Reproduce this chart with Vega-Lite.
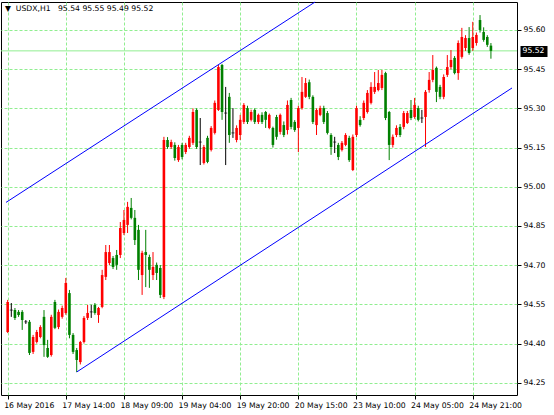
{
  "$schema": "https://vega.github.io/schema/vega-lite/v6.json",
  "width": 516,
  "height": 393,
  "autosize": "none",
  "padding": {"left": 1, "top": 2, "right": 37, "bottom": 20},
  "background": "white",
  "title": {
    "text": "▼\u00a0\u00a0USDX,H1\u00a0\u00a0\u00a095.54 95.55 95.49 95.52",
    "anchor": "start",
    "orient": "top",
    "frame": "group",
    "offset": -13,
    "dx": 4,
    "font": "DejaVu Sans",
    "fontSize": 7.7,
    "fontWeight": "normal",
    "color": "black"
  },
  "config": {
    "view": {"stroke": "black", "strokeWidth": 1}
  },
  "datasets": {
    "candles": [
      {"i":0,"o":94.444,"h":94.567,"l":94.44,"c":94.559},
      {"i":1,"o":94.528,"h":94.555,"l":94.502,"c":94.528},
      {"i":2,"o":94.528,"h":94.536,"l":94.49,"c":94.498},
      {"i":3,"o":94.521,"h":94.528,"l":94.502,"c":94.509},
      {"i":4,"o":94.521,"h":94.528,"l":94.452,"c":94.49},
      {"i":5,"o":94.483,"h":94.49,"l":94.475,"c":94.483},
      {"i":6,"o":94.483,"h":94.49,"l":94.356,"c":94.364},
      {"i":7,"o":94.368,"h":94.433,"l":94.36,"c":94.425},
      {"i":8,"o":94.406,"h":94.452,"l":94.4,"c":94.444},
      {"i":9,"o":94.425,"h":94.47,"l":94.42,"c":94.463},
      {"i":10,"o":94.502,"h":94.528,"l":94.349,"c":94.394},
      {"i":11,"o":94.383,"h":94.414,"l":94.345,"c":94.349},
      {"i":12,"o":94.356,"h":94.51,"l":94.35,"c":94.502},
      {"i":13,"o":94.559,"h":94.567,"l":94.455,"c":94.46},
      {"i":14,"o":94.463,"h":94.53,"l":94.455,"c":94.521},
      {"i":15,"o":94.502,"h":94.545,"l":94.495,"c":94.536},
      {"i":16,"o":94.517,"h":94.651,"l":94.51,"c":94.632},
      {"i":17,"o":94.593,"h":94.605,"l":94.42,"c":94.433},
      {"i":18,"o":94.433,"h":94.44,"l":94.36,"c":94.368},
      {"i":19,"o":94.375,"h":94.383,"l":94.291,"c":94.337},
      {"i":20,"o":94.329,"h":94.41,"l":94.32,"c":94.406},
      {"i":21,"o":94.406,"h":94.505,"l":94.4,"c":94.498},
      {"i":22,"o":94.498,"h":94.548,"l":94.49,"c":94.517},
      {"i":23,"o":94.521,"h":94.548,"l":94.498,"c":94.521},
      {"i":24,"o":94.548,"h":94.555,"l":94.51,"c":94.517},
      {"i":25,"o":94.509,"h":94.54,"l":94.479,"c":94.536},
      {"i":26,"o":94.54,"h":94.682,"l":94.535,"c":94.662},
      {"i":27,"o":94.655,"h":94.777,"l":94.643,"c":94.75},
      {"i":28,"o":94.708,"h":94.777,"l":94.7,"c":94.75},
      {"i":29,"o":94.727,"h":94.735,"l":94.685,"c":94.693},
      {"i":30,"o":94.739,"h":94.758,"l":94.682,"c":94.701},
      {"i":31,"o":94.739,"h":94.865,"l":94.727,"c":94.842},
      {"i":32,"o":94.823,"h":94.911,"l":94.815,"c":94.873},
      {"i":33,"o":94.854,"h":94.942,"l":94.823,"c":94.923},
      {"i":34,"o":94.919,"h":94.957,"l":94.875,"c":94.881},
      {"i":35,"o":94.881,"h":94.911,"l":94.777,"c":94.796},
      {"i":36,"o":94.835,"h":94.854,"l":94.643,"c":94.682},
      {"i":37,"o":94.662,"h":94.755,"l":94.586,"c":94.747},
      {"i":38,"o":94.75,"h":94.835,"l":94.616,"c":94.739},
      {"i":39,"o":94.731,"h":94.74,"l":94.613,"c":94.682},
      {"i":40,"o":94.662,"h":94.75,"l":94.643,"c":94.693},
      {"i":41,"o":94.701,"h":94.71,"l":94.643,"c":94.67},
      {"i":42,"o":94.689,"h":94.7,"l":94.574,"c":94.586},
      {"i":43,"o":94.578,"h":95.191,"l":94.57,"c":95.179},
      {"i":44,"o":95.179,"h":95.19,"l":95.145,"c":95.152},
      {"i":45,"o":95.152,"h":95.18,"l":95.145,"c":95.171},
      {"i":46,"o":95.16,"h":95.17,"l":95.1,"c":95.11},
      {"i":47,"o":95.102,"h":95.16,"l":95.095,"c":95.152},
      {"i":48,"o":95.16,"h":95.168,"l":95.105,"c":95.114},
      {"i":49,"o":95.133,"h":95.168,"l":95.125,"c":95.16},
      {"i":50,"o":95.152,"h":95.195,"l":95.145,"c":95.187},
      {"i":51,"o":95.168,"h":95.3,"l":95.16,"c":95.286},
      {"i":52,"o":95.294,"h":95.3,"l":95.145,"c":95.152},
      {"i":53,"o":95.171,"h":95.263,"l":95.083,"c":95.171},
      {"i":54,"o":95.091,"h":95.16,"l":95.085,"c":95.152},
      {"i":55,"o":95.187,"h":95.195,"l":95.09,"c":95.095},
      {"i":56,"o":95.141,"h":95.232,"l":95.135,"c":95.225},
      {"i":57,"o":95.206,"h":95.33,"l":95.2,"c":95.321},
      {"i":58,"o":95.294,"h":95.466,"l":95.29,"c":95.458},
      {"i":59,"o":95.466,"h":95.47,"l":95.256,"c":95.286},
      {"i":60,"o":95.282,"h":95.382,"l":95.083,"c":95.282},
      {"i":61,"o":95.344,"h":95.359,"l":95.168,"c":95.198},
      {"i":62,"o":95.206,"h":95.301,"l":95.187,"c":95.206},
      {"i":63,"o":95.179,"h":95.235,"l":95.17,"c":95.225},
      {"i":64,"o":95.198,"h":95.275,"l":95.179,"c":95.256},
      {"i":65,"o":95.248,"h":95.32,"l":95.24,"c":95.313},
      {"i":66,"o":95.301,"h":95.31,"l":95.24,"c":95.248},
      {"i":67,"o":95.256,"h":95.295,"l":95.25,"c":95.286},
      {"i":68,"o":95.294,"h":95.3,"l":95.24,"c":95.248},
      {"i":69,"o":95.248,"h":95.28,"l":95.24,"c":95.275},
      {"i":70,"o":95.275,"h":95.285,"l":95.24,"c":95.248},
      {"i":71,"o":95.286,"h":95.29,"l":95.225,"c":95.256},
      {"i":72,"o":95.225,"h":95.28,"l":95.22,"c":95.275},
      {"i":73,"o":95.225,"h":95.23,"l":95.15,"c":95.16},
      {"i":74,"o":95.267,"h":95.275,"l":95.18,"c":95.191},
      {"i":75,"o":95.21,"h":95.28,"l":95.2,"c":95.275},
      {"i":76,"o":95.236,"h":95.25,"l":95.19,"c":95.198},
      {"i":77,"o":95.217,"h":95.33,"l":95.2,"c":95.313},
      {"i":78,"o":95.332,"h":95.34,"l":95.22,"c":95.229},
      {"i":79,"o":95.248,"h":95.255,"l":95.21,"c":95.217},
      {"i":80,"o":95.225,"h":95.31,"l":95.133,"c":95.301},
      {"i":81,"o":95.301,"h":95.42,"l":95.295,"c":95.363},
      {"i":82,"o":95.344,"h":95.416,"l":95.34,"c":95.397},
      {"i":83,"o":95.4,"h":95.41,"l":95.335,"c":95.344},
      {"i":84,"o":95.344,"h":95.35,"l":95.24,"c":95.248},
      {"i":85,"o":95.236,"h":95.3,"l":95.198,"c":95.294},
      {"i":86,"o":95.275,"h":95.31,"l":95.27,"c":95.301},
      {"i":87,"o":95.301,"h":95.31,"l":95.24,"c":95.248},
      {"i":88,"o":95.282,"h":95.29,"l":95.2,"c":95.206},
      {"i":89,"o":95.198,"h":95.205,"l":95.122,"c":95.152},
      {"i":90,"o":95.171,"h":95.191,"l":95.129,"c":95.171},
      {"i":91,"o":95.16,"h":95.168,"l":95.102,"c":95.114},
      {"i":92,"o":95.141,"h":95.175,"l":95.135,"c":95.168},
      {"i":93,"o":95.16,"h":95.205,"l":95.155,"c":95.198},
      {"i":94,"o":95.187,"h":95.195,"l":95.095,"c":95.102},
      {"i":95,"o":95.064,"h":95.2,"l":95.06,"c":95.191},
      {"i":96,"o":95.198,"h":95.31,"l":95.19,"c":95.301},
      {"i":97,"o":95.256,"h":95.27,"l":95.23,"c":95.236},
      {"i":98,"o":95.263,"h":95.33,"l":95.255,"c":95.321},
      {"i":99,"o":95.286,"h":95.37,"l":95.28,"c":95.359},
      {"i":100,"o":95.321,"h":95.4,"l":95.315,"c":95.382},
      {"i":101,"o":95.363,"h":95.439,"l":95.355,"c":95.382},
      {"i":102,"o":95.37,"h":95.447,"l":95.365,"c":95.397},
      {"i":103,"o":95.378,"h":95.447,"l":95.37,"c":95.428},
      {"i":104,"o":95.435,"h":95.44,"l":95.255,"c":95.263},
      {"i":105,"o":95.286,"h":95.29,"l":95.102,"c":95.16},
      {"i":106,"o":95.16,"h":95.2,"l":95.15,"c":95.191},
      {"i":107,"o":95.198,"h":95.235,"l":95.19,"c":95.225},
      {"i":108,"o":95.229,"h":95.24,"l":95.19,"c":95.198},
      {"i":109,"o":95.229,"h":95.29,"l":95.22,"c":95.282},
      {"i":110,"o":95.244,"h":95.29,"l":95.24,"c":95.282},
      {"i":111,"o":95.294,"h":95.332,"l":95.255,"c":95.263},
      {"i":112,"o":95.267,"h":95.34,"l":95.26,"c":95.313},
      {"i":113,"o":95.301,"h":95.31,"l":95.25,"c":95.256},
      {"i":114,"o":95.263,"h":95.294,"l":95.244,"c":95.263},
      {"i":115,"o":95.267,"h":95.37,"l":95.152,"c":95.363},
      {"i":116,"o":95.37,"h":95.439,"l":95.36,"c":95.409},
      {"i":117,"o":95.409,"h":95.504,"l":95.4,"c":95.447},
      {"i":118,"o":95.455,"h":95.46,"l":95.324,"c":95.363},
      {"i":119,"o":95.382,"h":95.39,"l":95.335,"c":95.344},
      {"i":120,"o":95.344,"h":95.43,"l":95.335,"c":95.42},
      {"i":121,"o":95.428,"h":95.504,"l":95.42,"c":95.458},
      {"i":122,"o":95.458,"h":95.523,"l":95.45,"c":95.485},
      {"i":123,"o":95.493,"h":95.5,"l":95.43,"c":95.435},
      {"i":124,"o":95.435,"h":95.56,"l":95.409,"c":95.55},
      {"i":125,"o":95.497,"h":95.608,"l":95.49,"c":95.573},
      {"i":126,"o":95.531,"h":95.58,"l":95.52,"c":95.569},
      {"i":127,"o":95.569,"h":95.611,"l":95.505,"c":95.512},
      {"i":128,"o":95.531,"h":95.631,"l":95.52,"c":95.573},
      {"i":129,"o":95.55,"h":95.59,"l":95.54,"c":95.581},
      {"i":130,"o":95.638,"h":95.657,"l":95.59,"c":95.6},
      {"i":131,"o":95.592,"h":95.61,"l":95.555,"c":95.562},
      {"i":132,"o":95.573,"h":95.58,"l":95.535,"c":95.543},
      {"i":133,"o":95.54,"h":95.55,"l":95.49,"c":95.52}
    ],
    "upper": [{"i": -0.46, "p": 94.94}, {"i": 84.6, "p": 95.707}],
    "lower": [{"i": 19, "p": 94.291}, {"i": 138.8, "p": 95.378}],
    "bid": [{"p": 95.52}]
  },
  "resolve": {"scale": {"y": "independent"}},
  "layer": [
    {
      "data": {"name": "bid"},
      "mark": {"type": "rule", "color": "#90ee90", "strokeWidth": 1},
      "encoding": {
        "y": {
          "field": "p",
          "type": "quantitative",
          "scale": {"domain": [94.203, 95.707], "nice": false, "zero": false},
          "axis": {
            "orient": "right",
            "values": [95.52],
            "format": ".2f",
            "offset": 3,
            "domain": false,
            "grid": false,
            "ticks": true,
            "tickColor": "black",
            "tickSize": 27,
            "tickWidth": 11,
            "labelColor": "white",
            "labelPadding": -25,
            "labelFont": "DejaVu Sans",
            "labelFontSize": 7.7,
            "labelOverlap": false,
            "labelBound": false,
            "labelFlush": false,
            "title": null
          }
        }
      }
    },
    {
      "layer": [
        {
          "data": {"name": "candles"},
          "mark": {"type": "rule", "strokeWidth": 1},
          "encoding": {
            "x": {
              "field": "i",
              "type": "quantitative",
              "scale": {"domain": [-0.46, 138.8], "nice": false, "zero": false},
              "axis": {
                "orient": "bottom",
                "values": [0, 8, 16, 24, 32, 40, 48, 56, 64, 72, 80, 88, 96, 104, 112, 120, 128, 136],
                "domain": false,
                "grid": true,
                "gridColor": "#90ee90",
                "gridDash": [3, 2],
                "tickColor": "black",
                "tickOpacity": {"condition": {"test": "datum.value % 16 === 0", "value": 1}, "value": 0},
                "tickSize": 4,
                "labelExpr": "datum.value % 16 === 0 ? ['16 May 2016','17 May 14:00','18 May 09:00','19 May 04:00','19 May 20:00','20 May 15:00','23 May 10:00','24 May 05:00','24 May 21:00'][datum.value / 16] : ''",
                "labelAlign": "left",
                "labelBaseline": "top",
                "labelPadding": 2,
                "labelOffset": -4,
                "labelFont": "DejaVu Sans",
                "labelFontSize": 7.7,
                "labelColor": "black",
                "labelOverlap": false,
                "labelBound": false,
                "labelFlush": false,
                "title": null
              }
            },
            "y": {
              "field": "l",
              "type": "quantitative",
              "scale": {"domain": [94.203, 95.707], "nice": false, "zero": false},
              "axis": {
                "orient": "right",
                "values": [94.25, 94.4, 94.55, 94.7, 94.85, 95, 95.15, 95.3, 95.45, 95.6],
                "format": ".2f",
                "domain": false,
                "grid": true,
                "gridColor": "#90ee90",
                "gridDash": [3, 2],
                "tickColor": "black",
                "tickSize": 4,
                "labelPadding": 2,
                "labelFont": "DejaVu Sans",
                "labelFontSize": 7.7,
                "labelColor": "black",
                "labelOverlap": false,
                "labelBound": false,
                "labelFlush": false,
                "title": null
              }
            },
            "y2": {"field": "h"},
            "color": {
              "condition": [
                {"test": "datum.c > datum.o", "value": "#ff0000"},
                {"test": "datum.c < datum.o", "value": "#008000"}
              ],
              "value": "#000000"
            }
          }
        },
        {
          "data": {"name": "candles"},
          "mark": {"type": "bar", "width": 2.6},
          "encoding": {
            "x": {"field": "i", "type": "quantitative"},
            "y": {"field": "o", "type": "quantitative"},
            "y2": {"field": "c"},
            "color": {
              "condition": [
                {"test": "datum.c > datum.o", "value": "#ff0000"},
                {"test": "datum.c < datum.o", "value": "#008000"}
              ],
              "value": "#000000"
            }
          }
        },
        {
          "data": {"name": "candles"},
          "transform": [{"filter": "datum.c === datum.o"}],
          "mark": {"type": "tick", "orient": "horizontal", "size": 3, "thickness": 1, "color": "#000000"},
          "encoding": {
            "x": {"field": "i", "type": "quantitative"},
            "y": {"field": "o", "type": "quantitative"}
          }
        },
        {
          "data": {"name": "upper"},
          "mark": {"type": "line", "color": "#0000ff", "strokeWidth": 1},
          "encoding": {
            "x": {"field": "i", "type": "quantitative"},
            "y": {"field": "p", "type": "quantitative"}
          }
        },
        {
          "data": {"name": "lower"},
          "mark": {"type": "line", "color": "#0000ff", "strokeWidth": 1},
          "encoding": {
            "x": {"field": "i", "type": "quantitative"},
            "y": {"field": "p", "type": "quantitative"}
          }
        }
      ]
    }
  ]
}
